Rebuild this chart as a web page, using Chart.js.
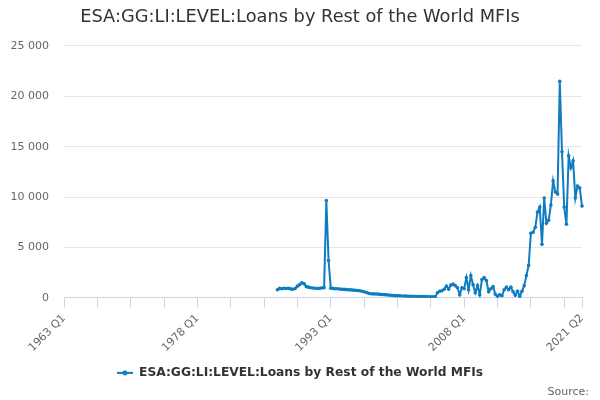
<!DOCTYPE html>
<html>
<head>
<meta charset="utf-8">
<script src="https://cdn.jsdelivr.net/npm/chart.js@4.4.1/dist/chart.umd.min.js"></script>
<style>
    html, body { margin: 0; padding: 0; background: #fff; }
    #wrap { width: 600px; height: 400px; }
</style>
</head>
<body>
<div id="wrap"><canvas id="loansChart"></canvas></div>
<script>
// ==================== DATA ====================
const FIRST_YEAR = 1963;
const LAST_YEAR = 2021;
const LAST_QUARTER = 2;
const FIRST_DATA_QUARTER = '1987 Q1';
const SERIES_NAME = 'ESA:GG:LI:LEVEL:Loans by Rest of the World MFIs';
const Y_TICKS = [0, 5000, 10000, 15000, 20000, 25000];

// one row per year, 1987 Q1 -> 2021 Q2
const loanValues = [
    800, 930, 900, 940,
    920, 950, 880, 850,
    920, 1150, 1300, 1480,
    1380, 1100, 1050, 1000,
    970, 940, 920, 950,
    980, 1000, 9650, 3700,
    950, 930, 900, 890,
    860, 850, 830, 810,
    800, 780, 760, 740,
    720, 690, 650, 600,
    520, 450, 400, 380,
    370, 360, 340, 330,
    310, 290, 270, 250,
    230, 210, 200, 190,
    180, 170, 160, 150,
    150, 140, 130, 130,
    120, 120, 110, 110,
    100, 100, 90, 90,
    500, 650, 700, 850,
    1150, 850, 1250, 1350,
    1200, 1000, 300, 1000,
    900, 2000, 800, 2200,
    1300, 500, 1200, 300,
    1800, 2000, 1700, 600,
    900, 1100, 350, 150,
    300, 200, 800, 1050,
    800, 1050, 600, 250,
    650, 150, 650, 1200,
    2200, 3200, 6400, 6500,
    7000, 8500, 9000, 5300,
    9900, 7400, 7700, 9200,
    11600, 10500, 10300, 21500,
    14500, 9000, 7300, 14100,
    12900, 13600, 9900, 11100,
    10900, 9100
];

const quarterLabels = [];
for (let y = FIRST_YEAR; y <= LAST_YEAR; y++) {
    for (let q = 1; q <= 4; q++) {
        if (y === LAST_YEAR && q > LAST_QUARTER) break;
        quarterLabels.push(y + ' Q' + q);
    }
}
const offset = quarterLabels.indexOf(FIRST_DATA_QUARTER);
const lastIndex = quarterLabels.length - 1;

// ==================== CHART ====================
const LINE_COLOR = '#0f7cc2';
const FONT = 'DejaVu Sans';

function fmtThousands(v) {
    return String(v).replace(/\B(?=(\d{3})+(?!\d))/g, ' ');
}

// legend symbol: short line with a dot
const legendIcon = document.createElement('canvas');
legendIcon.width = 16;
legendIcon.height = 8;
(function() {
    const c = legendIcon.getContext('2d');
    c.strokeStyle = LINE_COLOR;
    c.lineWidth = 2;
    c.beginPath();
    c.moveTo(0, 4);
    c.lineTo(16, 4);
    c.stroke();
    c.fillStyle = LINE_COLOR;
    c.beginPath();
    c.arc(8, 4, 2.5, 0, Math.PI * 2);
    c.fill();
})();

const sourcePlugin = {
    id: 'sourceText',
    afterDraw(chart) {
        const c = chart.ctx;
        c.save();
        c.font = '11px "' + FONT + '"';
        c.fillStyle = '#666666';
        c.textAlign = 'right';
        c.textBaseline = 'middle';
        c.fillText('Source:', 589, 392);
        c.restore();
    }
};

new Chart(document.getElementById('loansChart'), {
    type: 'line',
    data: {
        labels: quarterLabels,
        datasets: [{
            label: SERIES_NAME,
            data: loanValues.map((v, i) => ({ x: quarterLabels[offset + i], y: v })),
            borderColor: LINE_COLOR,
            backgroundColor: LINE_COLOR,
            borderWidth: 2,
            pointRadius: 1.8,
            pointBorderWidth: 0,
            pointBackgroundColor: LINE_COLOR,
            tension: 0,
            fill: false
        }]
    },
    options: {
        responsive: true,
        maintainAspectRatio: false,
        animation: false,
        devicePixelRatio: 1,
        layout: { padding: { left: 0, right: 0, top: 0, bottom: 11 } },
        plugins: {
            title: {
                display: true,
                text: SERIES_NAME,
                color: '#333333',
                font: { family: FONT, size: 17.8, weight: 'normal' },
                padding: { top: 7, bottom: 17.6 }
            },
            legend: {
                display: true,
                position: 'bottom',
                labels: {
                    usePointStyle: true,
                    pointStyle: legendIcon,
                    pointStyleWidth: 16,
                    color: '#333333',
                    font: { family: FONT, size: 12.25, weight: 'bold' },
                    padding: 10
                }
            },
            tooltip: { enabled: false }
        },
        scales: {
            x: {
                type: 'category',
                offset: false,
                grid: {
                    drawOnChartArea: false,
                    drawTicks: true,
                    tickLength: 10,
                    color: '#ccd6eb'
                },
                border: { display: true, color: '#ccd6eb' },
                ticks: {
                    autoSkip: false,
                    minRotation: 45,
                    maxRotation: 45,
                    padding: 4,
                    color: '#666666',
                    font: { family: FONT, size: 11 },
                    callback: function(value) {
                        return (value % 60 === 0 || value === lastIndex) ? this.getLabelForValue(value) : '';
                    }
                },
                afterBuildTicks: scale => {
                    scale.ticks = scale.ticks.filter(t => t.value % 15 === 0 || t.value === lastIndex);
                },
                afterFit: scale => { scale.height = 59; }
            },
            y: {
                min: 0,
                max: 25000,
                grid: { color: '#e6e6e6', drawTicks: false },
                border: { display: false },
                ticks: {
                    padding: 15,
                    color: '#666666',
                    font: { family: FONT, size: 11 },
                    callback: v => fmtThousands(v)
                },
                afterBuildTicks: scale => {
                    scale.ticks = Y_TICKS.map(v => ({ value: v }));
                },
                afterFit: scale => { scale.width = 64; }
            },
            // empty right-hand spacer so the plot ends at the same place as the original
            spacer: {
                type: 'linear',
                position: 'right',
                grid: { display: false },
                border: { display: false },
                ticks: { display: false },
                afterFit: scale => { scale.width = 18; }
            }
        }
    },
    plugins: [sourcePlugin]
});
</script>
</body>
</html>
